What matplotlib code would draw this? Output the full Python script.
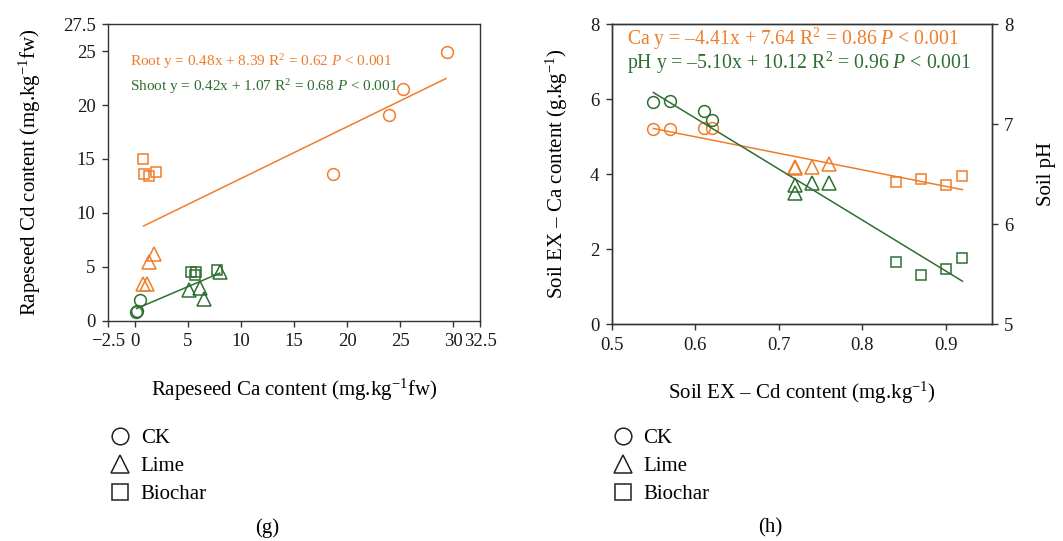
import matplotlib
matplotlib.use('Agg')
import numpy as np
import matplotlib.pyplot as plt
from matplotlib.lines import Line2D

plt.rcParams['font.family'] = ['Liberation Serif', 'DejaVu Serif']
plt.rcParams['mathtext.fontset'] = 'custom'
plt.rcParams['mathtext.rm'] = 'Liberation Serif'
plt.rcParams['mathtext.it'] = 'Liberation Serif:italic'

ORANGE = '#EF7D2A'
GREEN = '#2E6E31'
AXC = '#333333'

# (g) rapeseed Ca vs Cd - root (orange) and shoot (green)
root_ck_x = [29.4, 25.25, 23.95, 18.7]
root_ck_y = [24.9, 21.45, 19.1, 13.6]
root_lime_x = [1.85, 1.4, 0.75, 1.15]
root_lime_y = [6.2, 5.5, 3.4, 3.4]
root_bio_x = [0.8, 0.9, 1.4, 2.0]
root_bio_y = [15.0, 13.6, 13.45, 13.75]
shoot_ck_x = [0.55, 0.2, 0.1]
shoot_ck_y = [1.9, 0.9, 0.85]
shoot_lime_x = [5.1, 6.2, 6.55, 8.05]
shoot_lime_y = [2.85, 3.1, 2.0, 4.55]
shoot_bio_x = [5.3, 5.75, 5.7, 7.8]
shoot_bio_y = [4.5, 4.55, 4.3, 4.75]
root_fit = (0.48, 8.39)
shoot_fit = (0.42, 1.07)

# (h) soil EX-Cd vs EX-Ca (orange, left axis) and pH (green, right axis)
cd_ck = [0.55, 0.57, 0.61, 0.62]
cd_lime = [0.72, 0.72, 0.74, 0.76]
cd_bio = [0.84, 0.87, 0.90, 0.92]
ca_ck = [5.2, 5.2, 5.22, 5.22]
ca_lime = [4.2, 4.15, 4.18, 4.28]
ca_bio = [3.78, 3.86, 3.70, 3.96]
ph_ck = [7.22, 7.23, 7.13, 7.04]
ph_lime = [6.39, 6.31, 6.41, 6.41]
ph_bio = [5.62, 5.49, 5.55, 5.66]
ca_fit = (-4.41, 7.64)
ph_fit = (-5.10, 10.12)

fig = plt.figure(figsize=(10.63, 5.41), dpi=100)

def style(ax):
    for s in ax.spines.values():
        s.set_color(AXC)
        s.set_linewidth(1.0)
    ax.tick_params(direction='out', length=4, width=1, color=AXC, labelsize=13.5,
                   labelcolor='#1a1a1a', pad=5)

def pts(ax, x, y, m, c, ms):
    ax.plot(x, y, ls='none', marker=m, ms=ms, mfc='none', mec=c, mew=1.1, clip_on=False)

def fitline(ax, xs, fit, c):
    xx = np.array([min(xs), max(xs)])
    ax.plot(xx, fit[0] * xx + fit[1], color=c, lw=1.1)

MS_O, MS_T, MS_S = 8.5, 9.5, 7.2

# ---- panel g
ax1 = fig.add_axes([0.1016, 0.4067, 0.35, 0.5489])
style(ax1)
pts(ax1, root_ck_x, root_ck_y, 'o', ORANGE, MS_O)
pts(ax1, root_lime_x, root_lime_y, '^', ORANGE, MS_T)
pts(ax1, root_bio_x, root_bio_y, 's', ORANGE, MS_S)
pts(ax1, shoot_ck_x, shoot_ck_y, 'o', GREEN, MS_O)
pts(ax1, shoot_lime_x, shoot_lime_y, '^', GREEN, MS_T)
pts(ax1, shoot_bio_x, shoot_bio_y, 's', GREEN, MS_S)
fitline(ax1, [0.85, 29.3], root_fit, ORANGE)
fitline(ax1, [0.2, 8.0], shoot_fit, GREEN)
ax1.set_xlim(-2.5, 32.5)
ax1.set_ylim(0, 27.5)
ax1.set_xticks([-2.5, 0, 5, 10, 15, 20, 25, 30, 32.5])
ax1.set_xticklabels(['\u22122.5', '0', '5', '10', '15', '20', '25', '30', '32.5'])
ax1.set_yticks([0, 5, 10, 15, 20, 25, 27.5])
ax1.set_yticklabels(['0', '5', '10', '15', '20', '25', '27.5'])
ax1.set_xlabel('Rapeseed Ca content (mg.kg$\\mathregular{^{-1}}$fw)', fontsize=15, labelpad=19)
ax1.set_ylabel('Rapeseed Cd content (mg.kg$\\mathregular{^{-1}}$fw)', fontsize=15, labelpad=14)
ax1.text(0.058, 0.875, 'Root y = 0.48x + 8.39 R$\\mathregular{^2}$ = 0.62 $\\it{P}$ < 0.001',
         transform=ax1.transAxes, color=ORANGE, fontsize=11, va='center')
ax1.text(0.058, 0.791, 'Shoot y = 0.42x + 1.07 R$\\mathregular{^2}$ = 0.68 $\\it{P}$ < 0.001',
         transform=ax1.transAxes, color=GREEN, fontsize=11, va='center')

# ---- panel h
ax2 = fig.add_axes([0.5754, 0.4011, 0.3575, 0.5545])
style(ax2)
ax3 = ax2.twinx()
style(ax3)
pts(ax2, cd_ck, ca_ck, 'o', ORANGE, MS_O)
pts(ax2, cd_lime, ca_lime, '^', ORANGE, MS_T)
pts(ax2, cd_bio, ca_bio, 's', ORANGE, MS_S)
pts(ax3, cd_ck, ph_ck, 'o', GREEN, MS_O)
pts(ax3, cd_lime, ph_lime, '^', GREEN, MS_T)
pts(ax3, cd_bio, ph_bio, 's', GREEN, MS_S)
fitline(ax2, cd_ck + cd_bio, ca_fit, ORANGE)
fitline(ax3, cd_ck + cd_bio, ph_fit, GREEN)
ax2.set_xlim(0.5, 0.955)
ax2.set_ylim(0, 8)
ax3.set_ylim(5, 8)
ax2.set_xticks([0.5, 0.6, 0.7, 0.8, 0.9])
ax2.set_yticks([0, 2, 4, 6, 8])
ax3.set_yticks([5, 6, 7, 8])
ax2.set_xlabel('Soil EX \u2013 Cd content (mg.kg$\\mathregular{^{-1}}$)', fontsize=15, labelpad=19)
ax2.set_ylabel('Soil EX \u2013 Ca content (g.kg$\\mathregular{^{-1}}$)', fontsize=15, labelpad=14)
ax3.set_ylabel('Soil pH', fontsize=15, labelpad=17)
ax2.text(0.04, 0.952, 'Ca y = \u20134.41x + 7.64 R$\\mathregular{^2}$ = 0.86 $\\it{P}$ < 0.001',
         transform=ax2.transAxes, color=ORANGE, fontsize=14.2, va='center')
ax2.text(0.04, 0.872, 'pH y = \u20135.10x + 10.12 R$\\mathregular{^2}$ = 0.96 $\\it{P}$ < 0.001',
         transform=ax2.transAxes, color=GREEN, fontsize=14.2, va='center')

# legends
handles = [Line2D([], [], ls='none', marker='o', ms=12, mfc='none', mec='#222222', mew=1.1),
           Line2D([], [], ls='none', marker='^', ms=13, mfc='none', mec='#222222', mew=1.1),
           Line2D([], [], ls='none', marker='s', ms=11.5, mfc='none', mec='#222222', mew=1.1)]
labels = ['CK', 'Lime', 'Biochar']
for xl in [0.103, 0.576]:
    fig.legend(handles, labels, loc='upper left', bbox_to_anchor=(xl, 0.208), frameon=False,
               fontsize=15, handlelength=1.0, handletextpad=0.5, labelspacing=0.4,
               borderpad=0, borderaxespad=0)

fig.text(267 / 1063, 1 - 528 / 541, '(g)', ha='center', va='center', fontsize=15)
fig.text(770 / 1063, 1 - 528 / 541, '(h)', ha='center', va='center', fontsize=15)

fig.savefig('out.png', dpi=100)
